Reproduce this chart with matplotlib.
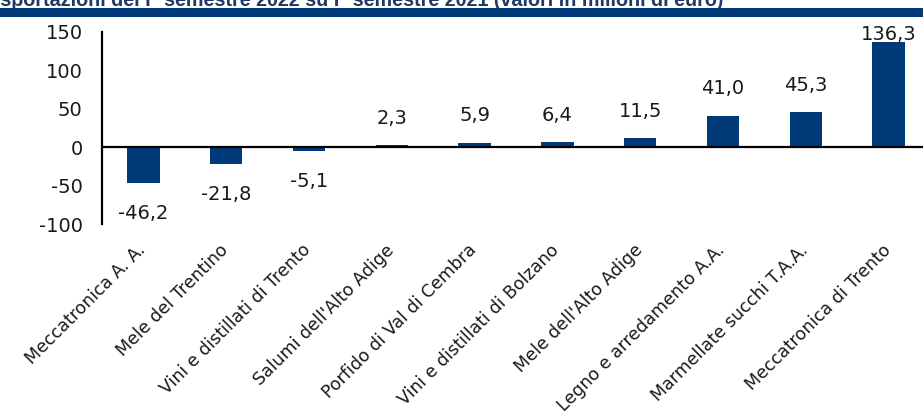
import matplotlib.pyplot as plt
from matplotlib.patches import Rectangle

# ====== DATI ======
categorie = ['Meccatronica A. A.', 'Mele del Trentino', 'Vini e distillati di Trento',
             "Salumi dell'Alto Adige", 'Porfido di Val di Cembra',
             'Vini e distillati di Bolzano', "Mele dell'Alto Adige",
             'Legno e arredamento A.A.', 'Marmellate succhi T.A.A.',
             'Meccatronica di Trento']
variazioni = [-46.2, -21.8, -5.1, 2.3, 5.9, 6.4, 11.5, 41.0, 45.3, 136.3]
tick_y = [-100, -50, 0, 50, 100, 150]

blu = '#003a78'

fig = plt.figure(figsize=(9.23, 4.18), dpi=100)

# ====== TITOLO E FASCIA ======
fig.text(-0.014, 1 - 6 / 418, 'Esportazioni del I° semestre 2022 su I° semestre 2021 (valori in milioni di euro)',
         fontsize=14.2, fontweight='bold', color='#1f3864', family='Liberation Sans',
         ha='left', va='baseline')
fig.patches.append(Rectangle((0, 1 - 16.5 / 418), 1, 8.5 / 418, transform=fig.transFigure,
                             facecolor=blu, edgecolor='none'))

# ====== GRAFICO ======
ax = fig.add_axes([102 / 923, 1 - 224 / 418, 828 / 923, 192.3 / 418])
x = range(len(categorie))
ax.bar(x, variazioni, width=0.39, color=blu, zorder=2)
ax.axhline(0, color='black', lw=1.6, zorder=3)

# etichette dei valori (la prima dall'alto resta dentro l'area del grafico)
for i, v in enumerate(variazioni):
    testo = f'{v:.1f}'.replace('.', ',')
    if v >= 0:
        y = min(v + 35, 147)
    else:
        y = v - 40
    ax.text(i, y, testo, ha='center', va='center', fontsize=14, color='#1a1a1a')

ax.set_xlim(-0.5, len(categorie) - 0.5)
ax.set_ylim(-100, 150)
ax.set_yticks(tick_y)
ax.set_yticklabels([str(t) for t in tick_y], fontsize=14, color='#1a1a1a')
ax.tick_params(axis='y', length=0, pad=14)
ax.set_xticks([])

# categorie ruotate a 45 gradi sotto l'asse
for i, nome in enumerate(categorie):
    ax.annotate(nome, xy=(i, 0), xycoords=('data', 'axes fraction'),
                xytext=(-7, -17), textcoords='offset pixels',
                rotation=45, ha='right', va='top', rotation_mode='anchor',
                fontsize=12.5, color='#1a1a1a', annotation_clip=False)

for lato in ['top', 'right', 'bottom']:
    ax.spines[lato].set_visible(False)
ax.spines['left'].set_linewidth(1.6)
ax.spines['left'].set_color('black')

plt.savefig('out.png', dpi=100)
